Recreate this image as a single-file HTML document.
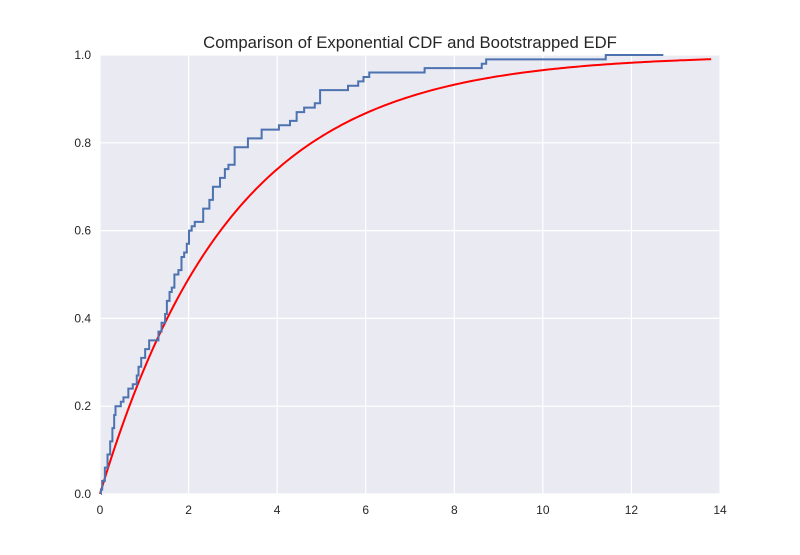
<!DOCTYPE html>
<html><head><meta charset="utf-8"><style>
body{margin:0;background:#fff;}
svg text{font-family:"Liberation Sans",sans-serif;fill:#262626;}
</style></head><body>
<svg id="chart" width="800" height="550" xmlns="http://www.w3.org/2000/svg">
<rect x="100" y="55" width="620" height="439" fill="#eaeaf2"/>
<g id="grid"></g>
<g id="ticks"></g>
<path id="cdf" fill="none" stroke="#ff0000" stroke-width="2"/>
<path id="edf" fill="none" stroke="#4c72b0" stroke-width="2"/>
<text x="410" y="48" text-anchor="middle" font-size="16.7">Comparison of Exponential CDF and Bootstrapped EDF</text>
</svg>
<script>
const xTicks=[0,2,4,6,8,10,12,14];
const yTicks=[0.0,0.2,0.4,0.6,0.8,1.0];
const edfX=[0.02,0.05,0.11,0.17,0.23,0.28,0.32,0.35,0.47,0.53,0.64,0.74,0.83,0.87,0.93,1.02,1.11,1.32,1.39,1.47,1.51,1.57,1.62,1.68,1.77,1.84,1.9,1.96,2.01,2.07,2.14,2.33,2.47,2.55,2.71,2.82,2.9,3.04,3.34,3.65,4.04,4.29,4.44,4.61,4.85,4.97,5.6,5.83,5.95,6.08,7.33,8.62,8.72,11.42];
const edfY=[0.01,0.03,0.06,0.09,0.12,0.15,0.18,0.2,0.21,0.22,0.24,0.25,0.27,0.29,0.31,0.33,0.35,0.37,0.39,0.41,0.44,0.46,0.47,0.5,0.51,0.54,0.55,0.57,0.6,0.61,0.62,0.65,0.67,0.7,0.72,0.74,0.75,0.79,0.81,0.83,0.84,0.85,0.87,0.88,0.89,0.92,0.93,0.94,0.95,0.96,0.97,0.98,0.99,1.0];
const edfEnd=12.72;
const cdfMean=2.97;
const cdfMax=13.8;
const X=v=>100+v*620/14, Y=v=>494-v*439;
const ns="http://www.w3.org/2000/svg";
const grid=document.getElementById('grid'), ticks=document.getElementById('ticks');
xTicks.forEach(t=>{
 const l=document.createElementNS(ns,'line');
 
 
 l.setAttribute('x1',X(t));l.setAttribute('x2',X(t));l.setAttribute('y1',55);l.setAttribute('y2',494);
 l.setAttribute('stroke','#fff');l.setAttribute('stroke-width','1.2');grid.appendChild(l);
 const tx=document.createElementNS(ns,'text');
 
 
 tx.setAttribute('x',X(t));tx.setAttribute('y',514);tx.setAttribute('text-anchor','middle');tx.setAttribute('font-size','12');
 tx.textContent=t;ticks.appendChild(tx);
});
yTicks.forEach(t=>{
 const l=document.createElementNS(ns,'line');
 
 
 l.setAttribute('x1',100);l.setAttribute('x2',720);l.setAttribute('y1',Y(t));l.setAttribute('y2',Y(t));
 l.setAttribute('stroke','#fff');l.setAttribute('stroke-width','1.2');grid.appendChild(l);
 const tx=document.createElementNS(ns,'text');
 
 
 tx.setAttribute('x',91);tx.setAttribute('y',Y(t)+4);tx.setAttribute('text-anchor','end');tx.setAttribute('font-size','12');
 tx.textContent=t.toFixed(1);ticks.appendChild(tx);
});
let d='M'+X(0)+','+Y(0);
for(let i=0;i<=200;i++){const x=cdfMax*i/200;d+=' L'+X(x).toFixed(2)+','+Y(1-Math.exp(-x/cdfMean)).toFixed(2);}
document.getElementById('cdf').setAttribute('d',d);
let e='M'+X(edfX[0])+','+Y(0);
for(let i=0;i<edfX.length;i++){
 e+=' L'+X(edfX[i]).toFixed(2)+','+Y(i?edfY[i-1]:0).toFixed(2);
 e+=' L'+X(edfX[i]).toFixed(2)+','+Y(edfY[i]).toFixed(2);
}
e+=' L'+X(edfEnd).toFixed(2)+','+Y(edfY[edfY.length-1]).toFixed(2);
document.getElementById('edf').setAttribute('d',e);
</script>
</body></html>
